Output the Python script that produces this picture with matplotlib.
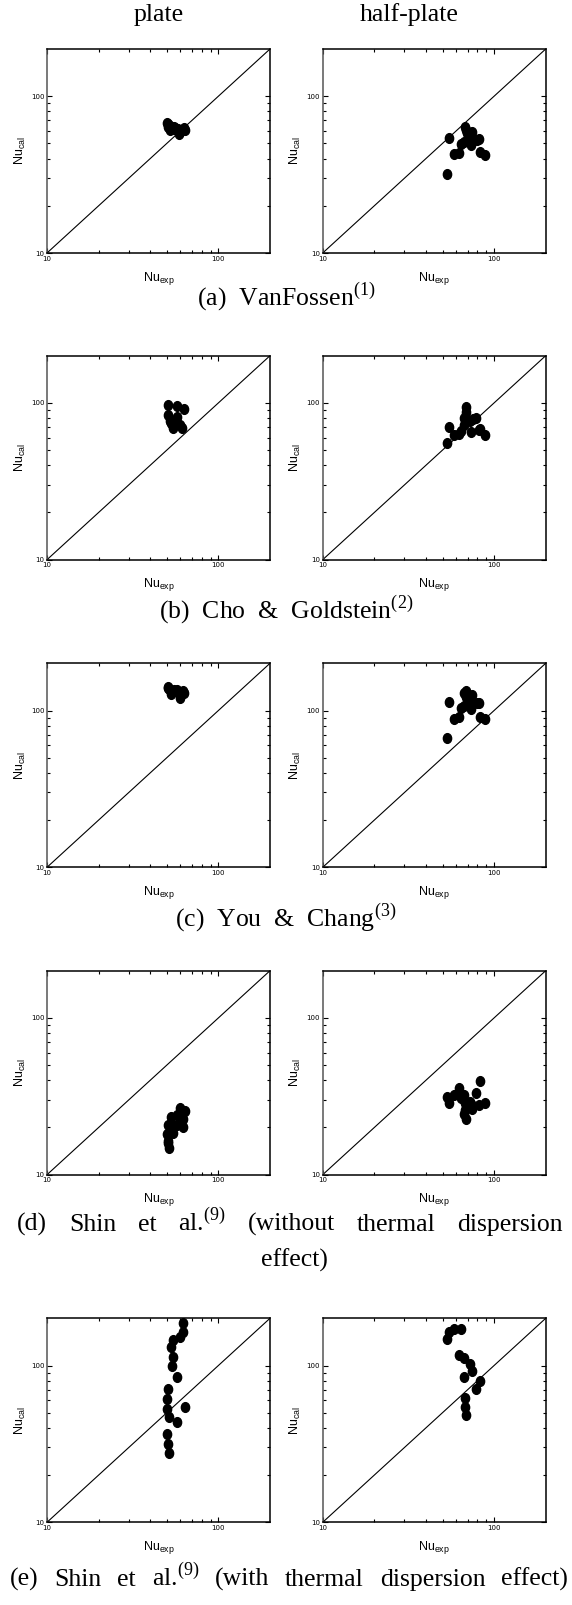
import numpy as np
import matplotlib
matplotlib.use("Agg")
import matplotlib.pyplot as plt
from matplotlib.path import Path
from matplotlib.transforms import Affine2D
from matplotlib.ticker import FixedLocator, NullFormatter

plt.rcParams['mathtext.fontset'] = 'custom'
plt.rcParams['mathtext.rm'] = 'Liberation Serif'
plt.rcParams['mathtext.sf'] = 'Liberation Sans'

# (a) VanFossen
a_plate_exp = [50, 51, 51, 52, 53, 54, 55, 56, 57, 58, 59, 60, 63, 64, 52]
a_plate_cal = [67, 66, 64, 65, 63, 62, 64, 63, 61, 62, 57, 59, 63, 61, 61]
a_half_exp = [54.6, 53.3, 58.3, 62.7, 63.8, 66.5, 67.4, 68.6, 69.8, 72.0, 73.3, 74.6, 79.9, 81.6, 82.8, 88.5]
a_half_cal = [54.2, 32.1, 42.8, 43.7, 49.6, 51.1, 63.4, 61.3, 58.3, 55.5, 48.9, 59.2, 52.9, 53.3, 44.1, 42.4]

# (b) Cho & Goldstein
b_plate_exp = [50.6, 50.6, 57.1, 63.3, 57.5, 53.2, 53.6, 54.4, 59.9, 61.7, 52.3]
b_plate_cal = [97.6, 83.5, 96.2, 92.0, 81.1, 74.7, 72.9, 69.4, 72.2, 69.4, 76.5]
b_half_exp = [53.3, 54.6, 58.3, 62.4, 63.8, 66.8, 66.8, 68.3, 68.3, 73.0, 72.5, 75.4, 78.8, 81.7, 82.8, 88.5]
b_half_cal = [55.4, 69.7, 62.0, 63.2, 65.8, 71.8, 80.7, 88.1, 94.8, 64.8, 76.1, 79.1, 80.7, 67.4, 68.4, 62.6]

# (c) You & Chang
c_plate_exp = [50.6, 51.8, 53.4, 55.1, 57.1, 59.8, 61.9, 63.0, 58.5, 51.0, 52.7]
c_plate_cal = [140.9, 136.8, 132.2, 135.5, 134.6, 119.9, 134.0, 129.0, 130.3, 139.0, 127.8]
c_half_exp = [53.3, 54.6, 58.3, 62.7, 63.8, 66.8, 66.8, 68.3, 68.9, 72.5, 73.3, 74.6, 79.9, 81.6, 82.8, 88.5]
c_half_cal = [66.3, 113.6, 88.9, 91.1, 103.5, 107.6, 129.0, 132.2, 122.8, 117.0, 102.5, 125.9, 111.4, 111.4, 91.5, 88.5]

# (d) Shin et al. without thermal dispersion
d_plate_exp = [50.6, 49.9, 50.6, 51.0, 51.8, 53.2, 54.4, 54.0, 57.1, 57.5, 59.8, 62.3, 62.3, 64.0]
d_plate_cal = [20.7, 18.3, 16.4, 15.9, 14.9, 23.4, 20.7, 18.5, 20.9, 24.2, 26.7, 22.5, 20.2, 25.4]
d_half_exp = [53.3, 54.6, 58.3, 62.7, 63.8, 66.8, 67.6, 66.8, 67.6, 68.9, 72.0, 73.3, 74.6, 78.5, 81.6, 82.8, 88.5]
d_half_cal = [31.3, 28.7, 32.4, 35.9, 30.9, 32.4, 28.7, 24.3, 25.8, 22.8, 29.1, 28.4, 26.4, 33.2, 27.7, 39.7, 28.7]

# (e) Shin et al. with thermal dispersion
e_plate_exp = [62.5, 62.5, 59.8, 54.4, 53.2, 54.4, 53.6, 57.5, 50.6, 50.4, 50.4, 51.8, 57.0, 64.0, 50.4, 51.0, 51.4]
e_plate_cal = [185.8, 163.5, 152.6, 145.3, 131.7, 113.7, 99.5, 84.7, 71.0, 60.7, 52.6, 46.7, 43.8, 54.4, 36.4, 31.4, 27.6]
e_half_exp = [53.3, 54.6, 58.3, 63.8, 62.7, 66.8, 72.5, 74.6, 66.8, 82.4, 78.8, 67.6, 67.6, 68.3]
e_half_cal = [146.8, 163.5, 170.0, 170.9, 116.5, 110.9, 102.0, 92.5, 84.7, 79.8, 70.3, 62.1, 54.4, 48.6]

captions = [r'(a)  VanFossen$^{\mathrm{(1)}}$',
            r'(b)  Cho  &  Goldstein$^{\mathrm{(2)}}$',
            r'(c)  You  &  Chang$^{\mathrm{(3)}}$']
caption_d = ['(d)', 'Shin', 'et', r'al.$^{\mathrm{(9)}}$', '(without', 'thermal', 'dispersion']
caption_e = ['(e)', 'Shin', 'et', r'al.$^{\mathrm{(9)}}$', '(with', 'thermal', 'dispersion', 'effect)']

W, H = 572, 1605
fig = plt.figure(figsize=(W / 100, H / 100), dpi=100)

dot = Path.unit_circle().transformed(Affine2D().scale(0.85, 1.0))

col_x = [47, 322.7]
row_top = [49, 355.7, 663.3, 970.7, 1318.3]
aw, ah = 223, 204
serif = 'Liberation Serif'
cap_size = 18.5


def add_panel(x0, top, exp, cal):
    ax = fig.add_axes([x0 / W, 1 - (top + ah) / H, aw / W, ah / H])
    ax.set_xscale('log')
    ax.set_yscale('log')
    ax.plot([10, 200], [10, 200], color='k', lw=0.8)
    ax.plot(exp, cal, linestyle='none', marker=dot, ms=7, color='k')
    ax.set_xlim(10, 200)
    ax.set_ylim(10, 200)
    for axis in (ax.xaxis, ax.yaxis):
        axis.set_major_locator(FixedLocator([10, 100]))
        axis.set_minor_locator(FixedLocator([20, 30, 40, 50, 60, 70, 80, 90]))
        axis.set_minor_formatter(NullFormatter())
    ax.set_xticklabels(['10', '100'])
    ax.set_yticklabels(['10', '100'])
    ax.tick_params(which='both', direction='in', top=True, right=True,
                   labelsize=5, pad=2, width=0.8)
    ax.tick_params(which='major', length=3.5)
    ax.tick_params(which='minor', length=2)
    for sp in ax.spines.values():
        sp.set_linewidth(1.1)
    ax.spines['left'].set_color('#555555')
    cx = (x0 + aw / 2) / W
    fig.text(cx, 1 - (top + ah + 25) / H, r'$\mathsf{Nu}_{\mathsf{exp}}$',
             ha='center', va='center', fontsize=9)
    fig.text((x0 - 27) / W, 1 - (top + ah / 2) / H, r'$\mathsf{Nu}_{\mathsf{cal}}$',
             ha='center', va='center', fontsize=9, rotation=90)
    return ax


panels = [(a_plate_exp, a_plate_cal, a_half_exp, a_half_cal),
          (b_plate_exp, b_plate_cal, b_half_exp, b_half_cal),
          (c_plate_exp, c_plate_cal, c_half_exp, c_half_cal),
          (d_plate_exp, d_plate_cal, d_half_exp, d_half_cal),
          (e_plate_exp, e_plate_cal, e_half_exp, e_half_cal)]

for i, (pe, pc, he, hc) in enumerate(panels):
    add_panel(col_x[0], row_top[i], pe, pc)
    add_panel(col_x[1], row_top[i], he, hc)

fig.text(159 / W, 1 - 15 / H, 'plate', ha='center', va='center', fontsize=cap_size, family=serif)
fig.text(409 / W, 1 - 15 / H, 'half-plate', ha='center', va='center', fontsize=cap_size, family=serif)

cap_y = [297, 610, 918]
for cap, y in zip(captions, cap_y):
    fig.text(0.5, 1 - y / H, cap, ha='center', va='center', fontsize=cap_size, family=serif)


def justify(words, y, x_left, x_right):
    # spread the words evenly over one full line
    renderer = fig.canvas.get_renderer()
    texts = [fig.text(0, 1 - y / H, w, ha='left', va='baseline', fontsize=cap_size, family=serif)
             for w in words]
    widths = [t.get_window_extent(renderer).width for t in texts]
    gap = (x_right - x_left - sum(widths)) / (len(words) - 1)
    x = x_left
    for t, w in zip(texts, widths):
        t.set_x(x / W)
        x += w + gap


justify(caption_d, 1231, 17, 563)
fig.text(294 / W, 1 - 1260 / H, 'effect)', ha='center', va='center', fontsize=cap_size, family=serif)
justify(caption_e, 1586, 10, 568)

fig.savefig('out.png', dpi=100)
